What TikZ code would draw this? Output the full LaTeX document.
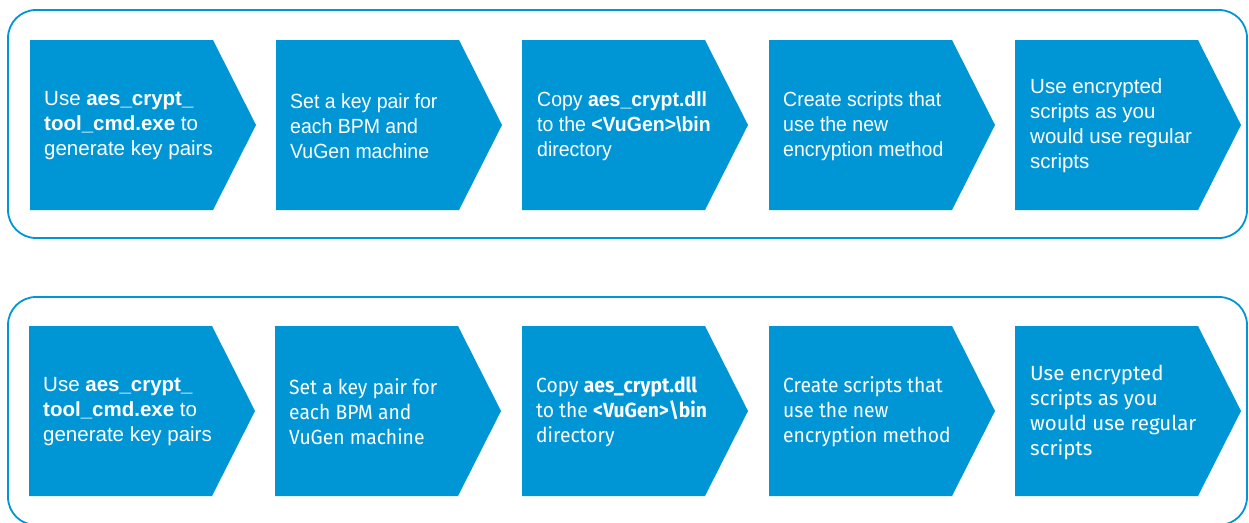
\documentclass[tikz,border=0pt]{standalone}
\usepackage{fontspec}
\setmainfont{Liberation Sans}
\newfontfamily\narrowfont[FakeStretch=0.95]{Liberation Sans}
\newfontfamily\hpfont{Fira Sans}
\newfontfamily\hpnarrow[FakeStretch=0.94]{Fira Sans}
\definecolor{hpblue}{HTML}{0096D6}
\tikzset{
  frame/.style={draw=hpblue, line width=1.8pt, rounded corners=28pt},
  chev/.style={fill=hpblue},
  lbl/.style={anchor=west, align=left, inner sep=0pt, text=white,
    font=\fontsize{20.5}{25}\selectfont},
}
\newcommand\mychevron[2]{%
  \fill[chev] (#1,#2) -- ++(183,0) -- ++(43,85) -- ++(-43,85) -- ++(-183,0) -- cycle;}
\begin{document}
\begin{tikzpicture}[x=1pt,y=-1pt]
\useasboundingbox (0,0) rectangle (1249,522);
\clip (0,0) rectangle (1249,522);
% frames
\draw[frame] (8,10) rectangle (1247,238);
\draw[frame] (8,297) rectangle (1247,525);
% top row
\foreach \x in {30,276,522,769,1015} {\mychevron{\x}{40}}
\node[lbl] (a1) at (44,126) {Use \textbf{aes\_crypt\_}\\\textbf{tool\_cmd.exe} to\\generate key pairs};
\node[lbl] (a2) at (290,126) {\narrowfont Set a key pair for\\\narrowfont each BPM and\\\narrowfont VuGen machine};
\node[lbl] (a3) at (537,126) {\narrowfont Copy \textbf{aes\_crypt.dll}\\\narrowfont to the \textbf{<VuGen>\textbackslash bin}\\\narrowfont directory};
\node[lbl] (a4) at (783,126) {\narrowfont Create scripts that\\\narrowfont use the new\\\narrowfont encryption method};
\node[lbl] (a5) at (1030,126) {Use encrypted\\scripts as you\\would use regular\\scripts};
% bottom row
\foreach \x in {29,275,522,769,1015} {\mychevron{\x}{326}}
\node[lbl] (b1) at (43,412) {Use \textbf{aes\_crypt\_}\\\textbf{tool\_cmd.exe} to\\generate key pairs};
\node[lbl] (b2) at (289,412) {\hpnarrow Set a key pair for\\\hpnarrow each BPM and\\\hpnarrow VuGen machine};
\node[lbl] (b3) at (536,412) {\hpnarrow Copy \textbf{aes\_crypt.dll}\\\hpnarrow to the \textbf{<VuGen>\textbackslash bin}\\\hpnarrow directory};
\node[lbl] (b4) at (783,412) {\hpnarrow Create scripts that\\\hpnarrow use the new\\\hpnarrow encryption method};
\node[lbl] (b5) at (1030,412) {\hpfont Use encrypted\\\hpfont scripts as you\\\hpfont would use regular\\\hpfont scripts};
\end{tikzpicture}
\end{document}
